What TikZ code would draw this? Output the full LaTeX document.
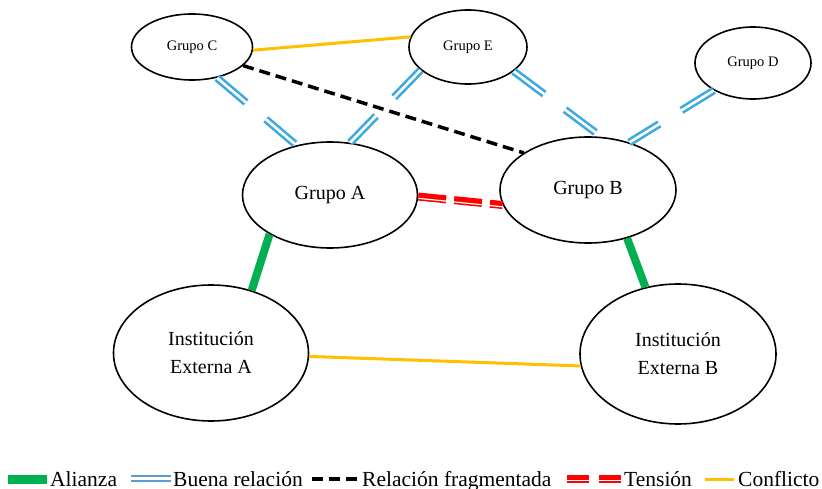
\documentclass[tikz,border=0pt]{standalone}
\usepackage{fontspec}
\setmainfont{Liberation Serif}
\usetikzlibrary{shapes.geometric,positioning}
\definecolor{alianzacol}{RGB}{0,176,80}
\definecolor{buenacol}{RGB}{60,170,222}
\definecolor{buenaleg}{RGB}{91,155,213}
\definecolor{conflictocol}{RGB}{255,192,0}
\definecolor{tensioncol}{RGB}{255,0,0}

\begin{document}
\begin{tikzpicture}[x=1pt,y=-1pt,
  grupo/.style={ellipse,draw,line width=1.6pt,inner sep=0pt,align=center},
  small/.style={grupo,font=\fontsize{14.5}{17}\selectfont},
  big/.style={grupo,font=\fontsize{20}{28}\selectfont},
  alianzaline/.style={alianzacol,line width=8pt},
  buenaline/.style={buenacol,line width=2.6pt,double=white,double distance=2.6pt,dash pattern=on 38pt off 26pt},
  fragline/.style={black,line width=3.5pt,dash pattern=on 11pt off 6pt},
  conflictoline/.style={conflictocol,line width=3pt},
  tensionline/.style={tensioncol,line width=8pt,dash pattern=on 28pt off 8pt},
  legtext/.style={anchor=base west,inner sep=0pt,font=\fontsize{21.5}{24}\selectfont}]
\useasboundingbox (0,0) rectangle (822,489);

% Groups
\node[small,minimum width=121pt,minimum height=66pt] (gC) at (192,47) {Grupo C};
\node[small,minimum width=118pt,minimum height=74pt] (gE) at (468,47) {Grupo E};
\node[small,minimum width=116pt,minimum height=72pt] (gD) at (753,63) {Grupo D};
\node[big,minimum width=175pt,minimum height=106pt] (gA) at (330,195) {Grupo A};
\node[big,minimum width=176pt,minimum height=106pt] (gB) at (588,190) {Grupo B};

% Institutions
\node[big,minimum width=195pt,minimum height=136pt] (extA) at (211,353) {Institución\\Externa A};
\node[big,minimum width=196pt,minimum height=140pt] (extB) at (678,354) {Institución\\Externa B};

% Relations
\draw[conflictoline] (gC.-3) -- (gE.170);
\draw[fragline] (gC.-20) -- (gB.150);
\draw[buenaline] (gC.-51) -- (gA.124);
\draw[buenaline] (gE.206) -- (gA.69);
\draw[buenaline] (gE.-28) -- (gB.76);
\draw[buenaline] (gD.215) -- (gB.49);
\draw[tensionline] (gA.-1) -- (gB.190);
\draw[white,line width=1.2pt,transform canvas={yshift=-1.8pt}] (gA.-1) -- (gB.190);
\draw[alianzaline] (gA.213) -- (extA.57);
\draw[alianzaline] (gB.-51) -- (extB.116);
\draw[conflictoline] (extA.-2) -- (extB.187);

% Legend
\fill[alianzacol] (8,474.5) rectangle (47,483.5);
\node[legtext] (lAli) at (50,486) {Alianza};
\draw[buenaleg,line width=2.4pt,double=white,double distance=2.4pt] (131,478.5) -- (171,478.5);
\node[legtext] (lBue) at (173,486) {Buena relación};
\draw[black,line width=3.5pt,dash pattern=on 11pt off 6pt] (312,479) -- (358,479);
\node[legtext] (lFra) at (362,486) {Relación fragmentada};
\draw[tensioncol,line width=8pt,dash pattern=on 22pt off 10pt] (567,479) -- (621,479);
\draw[white,line width=1.2pt] (567,480.8) -- (621,480.8);
\node[legtext] (lTen) at (624,486) {Tensión};
\draw[conflictocol,line width=3pt] (705,479) -- (734,479);
\node[legtext] (lCon) at (738,486) {Conflicto};
\end{tikzpicture}
\end{document}
